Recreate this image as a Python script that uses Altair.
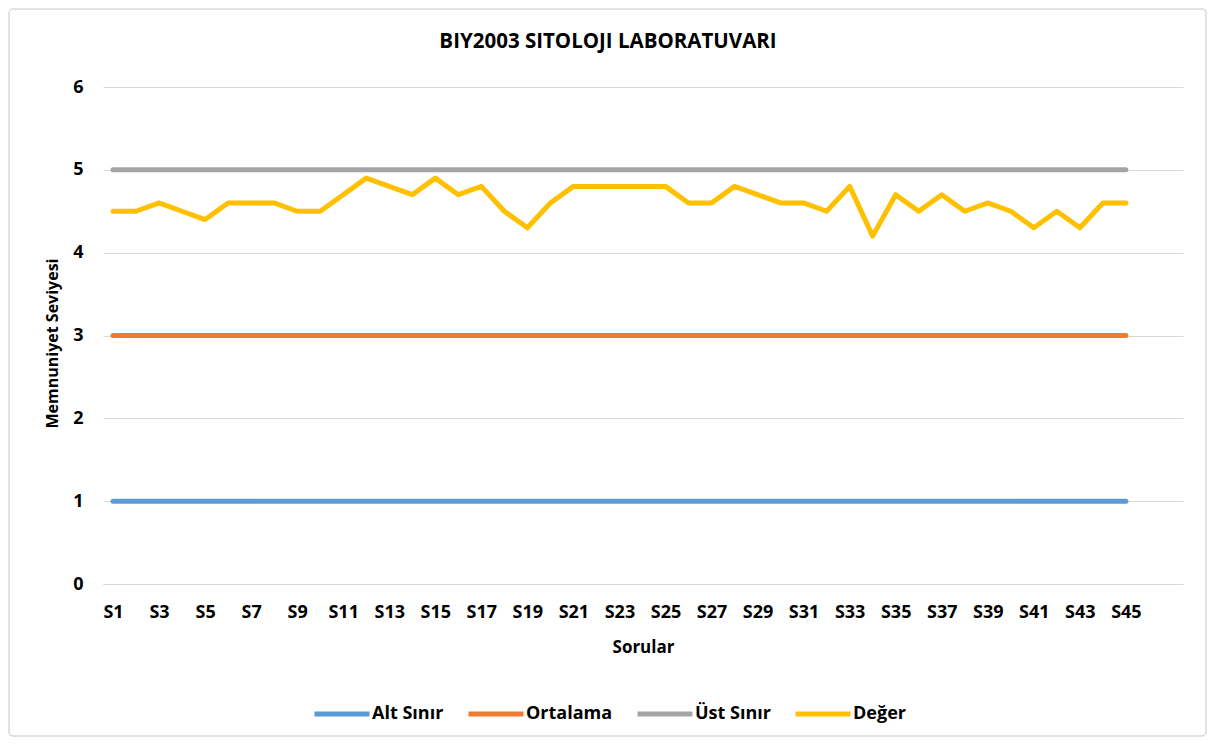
import altair as alt
import pandas as pd

categories = [f"S{i}" for i in range(1, 46)]
deger = [4.5, 4.5, 4.6, 4.5, 4.4, 4.6, 4.6, 4.6, 4.5, 4.5,
         4.7, 4.9, 4.8, 4.7, 4.9, 4.7, 4.8, 4.5, 4.3, 4.6,
         4.8, 4.8, 4.8, 4.8, 4.8, 4.6, 4.6, 4.8, 4.7, 4.6,
         4.6, 4.5, 4.8, 4.2, 4.7, 4.5, 4.7, 4.5, 4.6, 4.5,
         4.3, 4.5, 4.3, 4.6, 4.6]
alt_sinir = [1] * 45
ortalama = [3] * 45
ust_sinir = [5] * 45

series_names = ["Alt Sınır", "Ortalama", "Üst Sınır", "Değer"]
series_colors = ["#5B9BD5", "#ED7D31", "#A5A5A5", "#FFC000"]
series_values = [alt_sinir, ortalama, ust_sinir, deger]

rows = []
for name, vals in zip(series_names, series_values):
    for i, (cat, v) in enumerate(zip(categories, vals)):
        rows.append({"seri": name, "soru": cat, "idx": i + 1, "deger": v,
                     "ord": series_names.index(name)})
df = pd.DataFrame(rows)

FONT = "Open Sans"
W, H = 1080, 497

frame = alt.Chart(pd.DataFrame({"a": [0]})).mark_rect(
    fill="transparent", stroke="#d9d9d9", strokeWidth=1.5, cornerRadius=4
).encode(
    x=alt.value(-94), y=alt.value(-78), x2=alt.value(W + 23), y2=alt.value(H + 152)
)

lines = alt.Chart(df).mark_line(strokeWidth=5, strokeCap="round", strokeJoin="round").encode(
    x=alt.X("idx:Q",
            scale=alt.Scale(domain=[0.566, 47.48], nice=False, zero=False),
            axis=alt.Axis(values=list(range(1, 46, 2)),
                          labelExpr="'S' + datum.value",
                          title="Sorular", titleFontSize=17, grid=False, ticks=False,
                          domain=True, domainColor="#d9d9d9",
                          labelPadding=19, titlePadding=18)),
    y=alt.Y("deger:Q",
            scale=alt.Scale(domain=[0, 6], nice=False),
            axis=alt.Axis(values=[0, 1, 2, 3, 4, 5, 6], title="Memnuniyet Seviyesi",
                          titleFontSize=16, titleY=256,
                          grid=True, gridColor="#d9d9d9", domain=False, ticks=False,
                          labelPadding=20, titlePadding=12)),
    color=alt.Color("seri:N",
                    scale=alt.Scale(domain=series_names, range=series_colors),
                    legend=alt.Legend(title=None, orient="none", direction="horizontal",
                                      legendX=209, legendY=597,
                                      symbolType="stroke", symbolSize=3025,
                                      symbolStrokeWidth=5, columnPadding=14,
                                      labelFontSize=18, labelFont=FONT,
                                      labelFontWeight="bold", labelColor="#000000",
                                      labelOffset=0)),
    order=alt.Order("ord:Q"),
    detail="seri:N",
)

chart = alt.layer(frame, lines).properties(
    width=W, height=H,
    autosize=alt.AutoSizeParams(type="none"),
    padding={"left": 95, "top": 79, "right": 24, "bottom": 154},
    title=alt.TitleParams("BIY2003 SITOLOJI LABORATUVARI", anchor="middle", dx=-35,
                          offset=-64, baseline="bottom", font=FONT, fontSize=20.5,
                          fontWeight="bold", color="#000000"),
).configure_view(stroke=None).configure_axis(
    labelFont=FONT, labelFontSize=18, labelFontWeight="bold", labelColor="#000000",
    titleFont=FONT, titleFontWeight="bold", titleColor="#000000",
)

chart.save("out.html", embed_options={"renderer": "svg", "actions": False})
